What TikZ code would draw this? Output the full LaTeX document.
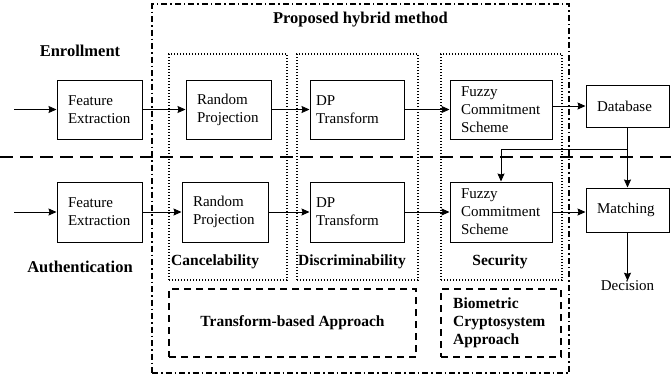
\documentclass[tikz,border=0pt]{standalone}
\usepackage{fontspec}
\setmainfont{Liberation Serif}
\usetikzlibrary{arrows.meta}
\hyphenpenalty=10000
\exhyphenpenalty=10000
\begin{document}
\begin{tikzpicture}[x=1pt,y=-1pt,
  box/.style={draw,line width=1pt,rectangle,align=left,inner sep=0pt,
    font=\fontsize{15}{18}\selectfont},
  plain/.style={inner sep=0pt,font=\fontsize{15}{18}\selectfont},
  lbl/.style={inner sep=0pt,font=\bfseries\fontsize{16.5}{18}\selectfont},
  slbl/.style={inner sep=0pt,font=\bfseries\fontsize{15.5}{18}\selectfont},
  arr/.style={line width=0.8pt,-{Stealth[length=8pt,width=7pt,inset=1pt]}},
  dotbox/.style={draw,line width=1.3pt,dash pattern=on 1.2pt off 1.8pt,inner sep=0pt},
  dashbox/.style={draw,line width=1.4pt,dash pattern=on 7pt off 5pt,inner sep=0pt},
  dashdot/.style={draw,line width=1.4pt,dash pattern=on 6pt off 3pt on 1.5pt off 3pt,inner sep=0pt},
  sepline/.style={line width=1.8pt,dash pattern=on 13pt off 7pt}
]
\useasboundingbox (0,0) rectangle (671,384);

% separator line
\coordinate (sl) at (0,157);
\coordinate (sr) at (671,157);
\draw[sepline] (sl) -- (sr);

% outer dash-dot container
\node[dashdot,minimum width=417pt,minimum height=369pt] (outer) at (360.5,188.5) {};
\node[lbl] (ptitle) at (360.5,20) {Proposed hybrid method};

% dotted containers
\node[dotbox,minimum width=118pt,minimum height=226pt] (cancz) at (228,167) {};
\node[dotbox,minimum width=121pt,minimum height=226pt] (discz) at (357.5,167) {};
\node[dotbox,minimum width=121pt,minimum height=226pt] (secz) at (501.5,167) {};

% dashed containers
\node[dashbox,minimum width=247pt,minimum height=68pt] (tba) at (292.5,323) {};
\node[slbl] (tbat) at (tba) {Transform-based Approach};
\node[dashbox,minimum width=120pt,minimum height=68pt] (bca) at (501,323) {};
\node[slbl,align=left,anchor=west] (bcat) at (453,323) {Biometric\\Cryptosystem\\Approach};

% row labels
\node[lbl] (enr) at (80,51) {Enrollment};
\node[lbl] (auth) at (80,267) {Authentication};

% zone labels
\node[slbl,anchor=west] (canct) at (171,262) {Cancelability};
\node[slbl,anchor=west] (disct) at (298,262) {Discriminability};
\node[slbl] (sect) at (500,262) {Security};

% top row boxes
\node[box,minimum width=85pt,minimum height=59pt,text width=63pt] (fe1) at (99.5,109.5) {Feature\\Extraction};
\node[box,minimum width=85pt,minimum height=59pt,text width=63pt] (rp1) at (228.5,109.5) {Random\\Projection};
\node[box,minimum width=94pt,minimum height=59pt,text width=82pt] (dp1) at (357,109.5) {DP\\Transform};
\node[box,minimum width=102pt,minimum height=59pt,text width=80pt] (fc1) at (501,109.5) {Fuzzy\\Commitment\\Scheme};
\node[box,minimum width=83pt,minimum height=42pt,text width=61pt] (db) at (627.5,106) {Database};

% bottom row boxes
\node[box,minimum width=85pt,minimum height=60pt,text width=63pt] (fe2) at (99.5,212) {Feature\\Extraction};
\node[box,minimum width=86pt,minimum height=60pt,text width=64pt] (rp2) at (225,212) {Random\\Projection};
\node[box,minimum width=94pt,minimum height=60pt,text width=82pt] (dp2) at (357,212) {DP\\Transform};
\node[box,minimum width=102pt,minimum height=60pt,text width=80pt] (fc2) at (501,212) {Fuzzy\\Commitment\\Scheme};
\node[box,minimum width=83pt,minimum height=44pt,text width=61pt] (mt) at (627.5,210) {Matching};
\node[plain] (dec) at (627.5,286) {Decision};

% inputs
\coordinate (in1) at (14,109.5);
\coordinate (in2) at (14,212);
\draw[arr] (in1) -- (fe1);
\draw[arr] (in2) -- (fe2);

% top row arrows
\draw[arr] (fe1) -- (rp1);
\draw[arr] (rp1) -- (dp1);
\draw[arr] (dp1) -- (fc1);
\draw[arr] (fc1.east |- db.west) -- (db.west);

% bottom row arrows
\draw[arr] (fe2) -- (rp2);
\draw[arr] (rp2) -- (dp2);
\draw[arr] (dp2) -- (fc2);
\draw[arr] (fc2.east) -- (mt.west |- fc2.east);

% database to matching and fuzzy
\draw[arr] (db.south) -- (mt.north);
\coordinate (brk) at (627.5,149);
\draw[arr] (brk) -| (fc2.north);
\draw[arr] (mt.south) -- (dec.north);
\end{tikzpicture}
\end{document}
